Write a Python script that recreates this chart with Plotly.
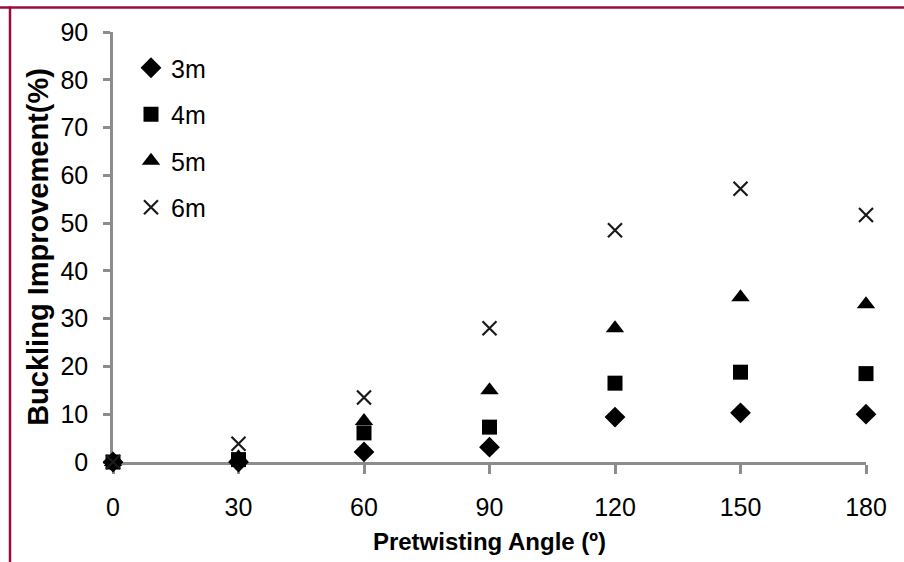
import plotly.graph_objects as go

# Pretwisting angle (degrees)
angles = [0, 30, 60, 90, 120, 150, 180]

# Buckling improvement (%) for each column length
improve_3m = [0, 0, 2.1, 3.1, 9.4, 10.3, 10.0]
improve_4m = [0, 0.5, 6.1, 7.3, 16.5, 18.8, 18.5]
improve_5m = [0, 1.0, 8.6, 15.0, 28.0, 34.5, 33.0]
improve_6m = [0, 3.8, 13.5, 28.0, 48.5, 57.2, 51.7]

series_names = ["3m", "4m", "5m", "6m"]
x_ticks = [0, 30, 60, 90, 120, 150, 180]
y_ticks = [0, 10, 20, 30, 40, 50, 60, 70, 80, 90]

NARROW = "Liberation Sans Narrow, Arial Narrow, Liberation Sans, Arial, sans-serif"
WIDE = "Liberation Sans, Arial, sans-serif"
AXIS_GREY = "#8c8c8c"
BORDER = "#9e0b3b"

W, H = 904, 562
L, R, T, B = 113, 38, 32, 100

styles = [
    dict(symbol="diamond", size=16, color="black", line=dict(width=0)),
    dict(symbol="square", size=15, color="black", line=dict(width=0)),
    dict(symbol="triangle-up", size=16, color="black", line=dict(width=0)),
    dict(symbol="x-thin", size=14, color="black", line=dict(width=2.2, color="#1a1a1a")),
]

fig = go.Figure()
for name, vals, mk in zip(series_names,
                          [improve_3m, improve_4m, improve_5m, improve_6m],
                          styles):
    fig.add_trace(go.Scatter(
        x=angles, y=vals, mode="markers", name=name, legendgroup=name,
        marker=mk, cliponaxis=False,
    ))

# pixel -> paper helpers for the outer frame
pw, ph = W - L - R, H - T - B
def px_x(p):
    return (p - L) / pw
def px_y(p):
    return (H - B - p) / ph

fig.add_shape(type="line", xref="paper", yref="paper",
              x0=px_x(0), x1=px_x(W + 5), y0=px_y(7.5), y1=px_y(7.5),
              line=dict(color=BORDER, width=2.5))
fig.add_shape(type="line", xref="paper", yref="paper",
              x0=px_x(10), x1=px_x(10), y0=px_y(6.5), y1=px_y(H + 5),
              line=dict(color=BORDER, width=2.5))

fig.update_layout(
    width=W, height=H,
    margin=dict(l=L, r=R, t=T, b=B, pad=0),
    paper_bgcolor="white", plot_bgcolor="white",
    font=dict(family=NARROW, size=24, color="black"),
    showlegend=True,
    legend=dict(
        x=px_x(131), y=px_y(45), xanchor="left", yanchor="top",
        bgcolor="rgba(0,0,0,0)", font=dict(family=NARROW, size=25),
        tracegroupgap=11, itemwidth=30,
    ),
    xaxis=dict(
        range=[0, 180], tickvals=x_ticks, ticktext=[str(v) for v in x_ticks],
        showgrid=False, zeroline=False, showline=True, layer="below traces",
        automargin=False,
        linecolor=AXIS_GREY, linewidth=2.5,
        ticks="outside", ticklen=9, tickwidth=2.5, tickcolor=AXIS_GREY,
        ticklabelstandoff=12,
        tickfont=dict(family=NARROW, size=25),
        title=dict(text="<b>Pretwisting Angle (º)</b>",
                   font=dict(family=NARROW, size=24), standoff=14),
    ),
    yaxis=dict(
        range=[0, 90], tickvals=y_ticks, ticktext=[str(v) for v in y_ticks],
        showgrid=False, zeroline=False, showline=True, layer="below traces",
        automargin=False,
        linecolor=AXIS_GREY, linewidth=2.5,
        ticks="outside", ticklen=7, tickwidth=2.5, tickcolor=AXIS_GREY,
        ticklabelstandoff=10,
        tickfont=dict(family=NARROW, size=25),
        title=dict(text="<b>Buckling Improvement(%)</b>",
                   font=dict(family=WIDE, size=29), standoff=4),
    ),
)

fig.write_html("out.html")
